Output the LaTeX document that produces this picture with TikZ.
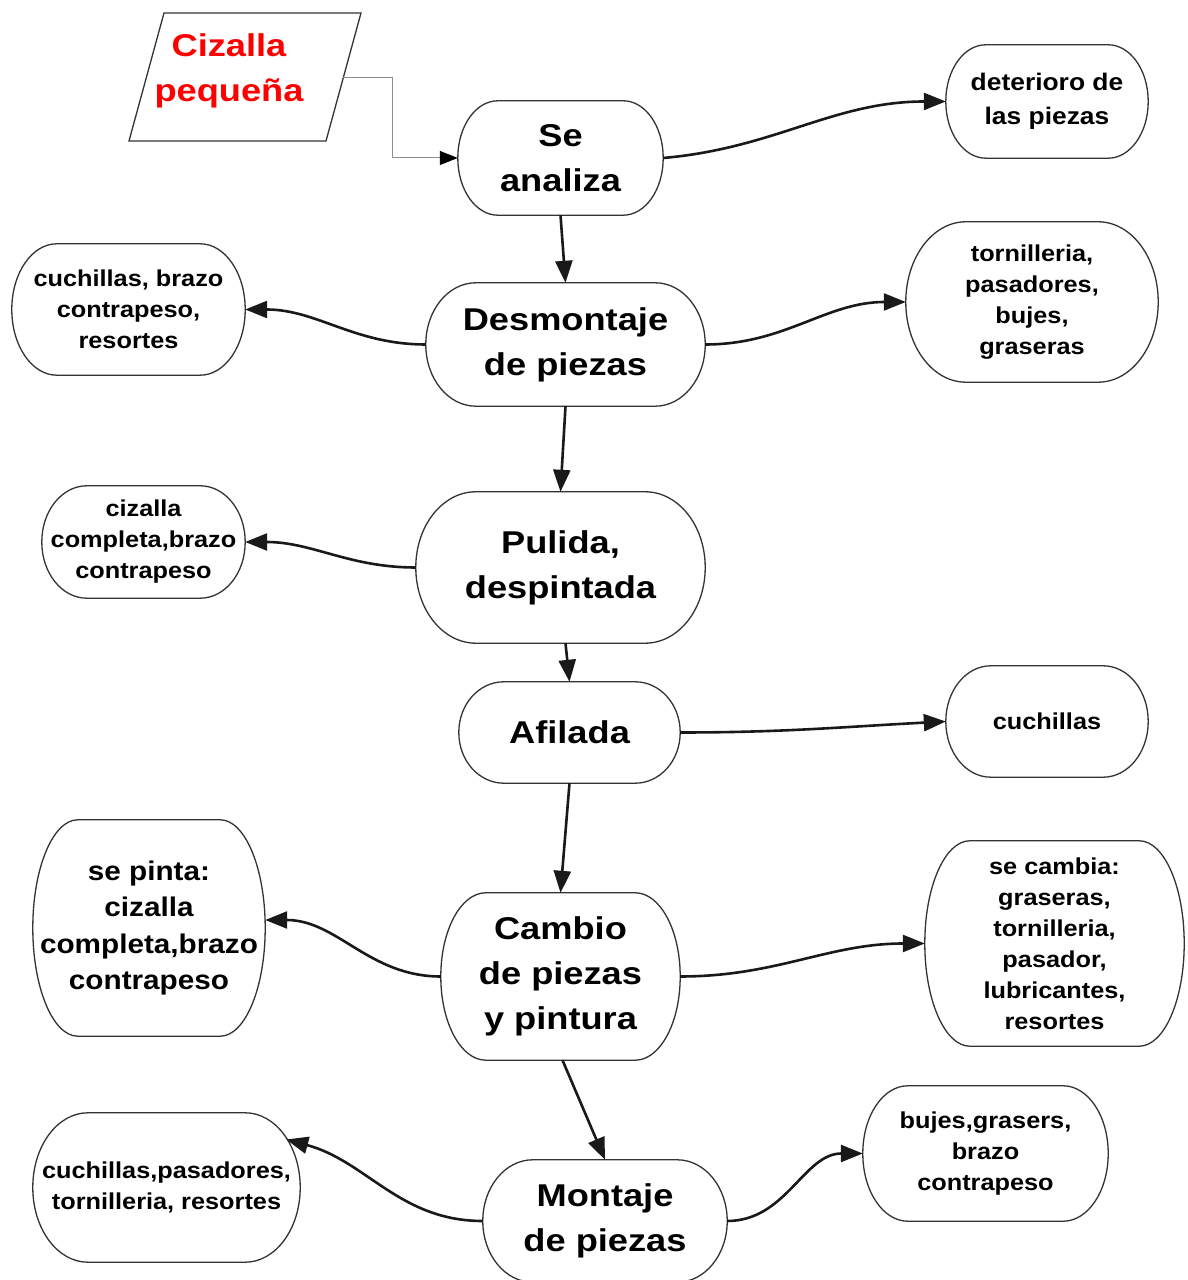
\documentclass[tikz,border=0pt]{standalone}
\usepackage{fontspec}
\setmainfont{Liberation Sans}
\newfontfamily\mainf[FakeStretch=1.15]{Liberation Sans}
\newfontfamily\smallf[FakeStretch=1.1]{Liberation Sans}
\usetikzlibrary{arrows.meta,calc}
\newcommand\eoutline[3]{%
  \draw[boxline] ($(#1.north west)+(#2pt,0pt)$) -- ($(#1.north east)+(-#2pt,0pt)$)
    arc[start angle=90,end angle=0,x radius=#2pt,y radius=#3pt]
    -- ($(#1.south east)+(0pt,#3pt)$)
    arc[start angle=0,end angle=-90,x radius=#2pt,y radius=#3pt]
    -- ($(#1.south west)+(#2pt,0pt)$)
    arc[start angle=270,end angle=180,x radius=#2pt,y radius=#3pt]
    -- ($(#1.north west)+(0pt,-#3pt)$)
    arc[start angle=180,end angle=90,x radius=#2pt,y radius=#3pt] -- cycle;}
\tikzset{
  mainbox/.style={inner sep=0pt, align=center, font=\mainf\bfseries\fontsize{31.5}{45}\selectfont},
  subbox/.style={inner sep=0pt, align=center, font=\smallf\bfseries\fontsize{23}{31}\selectfont},
  boxline/.style={draw=black!80, line width=1.3pt},
  conn/.style={line width=2.6pt, draw=black!90, -{Triangle[length=22pt,width=17pt]}},
  thinconn/.style={line width=1pt, draw=black!45, -{Triangle[length=18pt,width=14pt,color=black]}},
}
\begin{document}
\begin{tikzpicture}[x=1pt,y=1pt]
\useasboundingbox (0,0) rectangle (1188,1280);
\fill[white] (0,0) rectangle (1188,1280);

% input parallelogram
\draw[boxline] (164,1267) -- (361,1267) -- (326,1139) -- (129,1139) -- cycle;
\node[inner sep=0pt, align=center, text=red, font=\mainf\bfseries\fontsize{31.5}{45}\selectfont] (cz) at (229,1209) {Cizalla\\pequeña};
\coordinate (czout) at (343,1202);

% main column
\node[mainbox, minimum width=205pt, minimum height=114pt] (sa) at (560.5,1122) {Se\\analiza};
\node[mainbox, minimum width=279pt, minimum height=123pt] (des) at (565.5,935.5) {Desmontaje\\de piezas};
\node[mainbox, minimum width=289pt, minimum height=151pt] (pul) at (560.5,712.5) {Pulida,\\despintada};
\node[mainbox, minimum width=221pt, minimum height=101pt] (af) at (569.5,547.5) {Afilada};
\node[mainbox, minimum width=239pt, minimum height=167pt] (cam) at (560.5,303.5) {Cambio\\de piezas\\y pintura};
\node[mainbox, minimum width=244pt, minimum height=122pt] (mon) at (605,59) {Montaje\\de piezas};

% side boxes
\node[subbox, minimum width=202pt, minimum height=113pt, font=\smallf\bfseries\fontsize{24}{34}\selectfont] (det) at (1047,1178.5) {deterioro de\\las piezas};
\node[subbox, minimum width=233pt, minimum height=131pt] (l1) at (128.5,970.5) {cuchillas, brazo\\contrapeso,\\resortes};
\node[subbox, minimum width=252pt, minimum height=160pt] (r1) at (1032,978) {tornilleria,\\pasadores,\\bujes,\\graseras};
\node[subbox, minimum width=203pt, minimum height=112pt] (l2) at (143.5,738) {cizalla\\completa,brazo\\contrapeso};
\node[subbox, minimum width=202pt, minimum height=111pt] (r3) at (1047,558.5) {cuchillas};
\node[subbox, minimum width=232pt, minimum height=216pt, font=\smallf\bfseries\fontsize{27}{36.5}\selectfont] (l4) at (149,352) {se pinta:\\cizalla\\completa,brazo\\contrapeso};
\node[subbox, minimum width=259pt, minimum height=205pt] (r4) at (1054.5,336.5) {se cambia:\\graseras,\\tornilleria,\\pasador,\\lubricantes,\\resortes};
\node[subbox, minimum width=267pt, minimum height=149pt] (l5) at (166.5,92.5) {cuchillas,pasadores,\\tornilleria, resortes};
\node[subbox, minimum width=245pt, minimum height=135pt] (r5) at (985.5,126.5) {bujes,grasers,\\brazo\\contrapeso};

% outlines
\eoutline{sa}{40}{57}
\eoutline{des}{50}{61.5}
\eoutline{pul}{60}{75.5}
\eoutline{af}{45}{50.5}
\eoutline{cam}{45}{83.5}
\eoutline{mon}{50}{61}
\eoutline{det}{40}{56.5}
\eoutline{l1}{45}{65.5}
\eoutline{r1}{60}{80}
\eoutline{l2}{45}{56}
\eoutline{r3}{45}{55.5}
\eoutline{l4}{45}{108}
\eoutline{r4}{45}{102.5}
\eoutline{l5}{55}{74.5}
\eoutline{r5}{45}{67.5}

% connectors
\draw[thinconn] (czout) -- ++(49,0) |- (sa.west);
\draw[conn] (sa.east) to[out=5,in=180] (det.west);
\draw[conn] (sa.south) -- (des.north);
\draw[conn] (des.west) to[out=180,in=0] (l1.east);
\draw[conn] (des.east) to[out=0,in=180] (r1.west);
\draw[conn] (des.south) -- (pul.north);
\draw[conn] (pul.west) to[out=180,in=0] (l2.east);
\draw[conn] ($(pul.south)+(5pt,0pt)$) -- (af.north);
\draw[conn] (af.east) to[out=0,in=183] (r3.west);
\draw[conn] (af.south) -- (cam.north);
\draw[conn] (cam.west) to[out=180,in=0] ($(l4.east)+(0pt,8pt)$);
\draw[conn] (cam.east) to[out=0,in=180] (r4.west);
\draw[conn] ($(cam.south)+(2pt,0pt)$) -- (mon.north);
\draw[conn] (mon.west) to[out=180,in=-15] ($(l5.east)+(-14pt,48pt)$);
\draw[conn] (mon.east) to[out=0,in=180] (r5.west);
\end{tikzpicture}
\end{document}
